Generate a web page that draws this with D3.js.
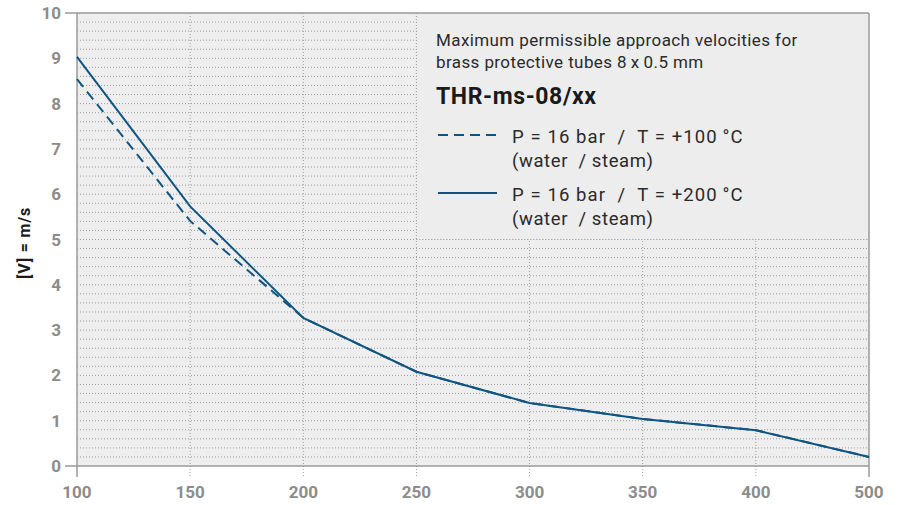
<!DOCTYPE html>
<html>
<head>
<meta charset="utf-8">
<script src="https://cdn.jsdelivr.net/npm/d3@7"></script>
<style>
  body { margin: 0; background: #fff; }
  text { font-family: Roboto, "DejaVu Sans", sans-serif; }
</style>
</head>
<body>
<div id="canvas"></div>
<script>
"use strict"

// data
let categories = ["100", "150", "200", "250", "300", "350", "400", "500"];
let velocity100 = [8.54, 5.41, 3.27, 2.08, 1.39, 1.04, 0.79, 0.2];   // dashed, +100 °C
let velocity200 = [9.03, 5.73, 3.27, 2.08, 1.39, 1.04, 0.79, 0.2];   // solid, +200 °C
let yTicks = [0, 1, 2, 3, 4, 5, 6, 7, 8, 9, 10];
let legendTitle = ["Maximum permissible approach velocities for", "brass protective tubes 8\u2009x\u20090.5 mm"];
let legendCode = "THR-ms-08/xx";
let legendEntries = [
    ["P = 16 bar  /  T = +100\u2009°C", "(water  / steam)"],
    ["P = 16 bar  /  T = +200\u2009°C", "(water  / steam)"]
];

let lineColor = "#0f5580";
let axisColor = "#9a9a9a";
let gridColor = "#9c9c9c";

let drawing = d3.select("#canvas")
    .append("svg")
    .attr("width", 905)
    .attr("height", 505);

let x = d3.scalePoint()
    .domain(categories)
    .range([77, 869]);

let y = d3.scaleLinear()
    .domain([0, 10])
    .range([466, 13]);

// plot background
let plotBg = drawing.append("rect")
    .attr("x", x("100"))
    .attr("y", y(10))
    .attr("width", x("500") - x("100"))
    .attr("height", y(0) - y(10))
    .attr("fill", "#eeeeee");

// horizontal dotted grid, every 0.2
let minorTicks = d3.range(1, 50).map(d => d / 5);
drawing.append("g")
    .selectAll("line")
    .data(minorTicks)
    .join("line")
    .attr("x1", x("100"))
    .attr("x2", x("500"))
    .attr("y1", d => y(d))
    .attr("y2", d => y(d))
    .attr("stroke", gridColor)
    .attr("stroke-width", 1)
    .attr("stroke-dasharray", "1,2");

// vertical dotted grid, reaching below the axis
drawing.append("g")
    .selectAll("line")
    .data(categories.slice(1, -1))
    .join("line")
    .attr("x1", d => x(d))
    .attr("x2", d => x(d))
    .attr("y1", y(10))
    .attr("y2", y(0) + 11)
    .attr("stroke", gridColor)
    .attr("stroke-width", 1)
    .attr("stroke-dasharray", "1,2");

// legend box covers the top right corner of the grid
let legendBox = drawing.append("rect")
    .attr("x", x("250"))
    .attr("y", y(10))
    .attr("width", x("500") - x("250"))
    .attr("height", y(5) - y(10))
    .attr("fill", "#ededed");

let legendLeftEdge = drawing.append("line")
    .attr("x1", x("250"))
    .attr("x2", x("250"))
    .attr("y1", y(10))
    .attr("y2", y(5))
    .attr("stroke", gridColor)
    .attr("stroke-dasharray", "1,2");

let legendBottomEdge = drawing.append("line")
    .attr("x1", x("250"))
    .attr("x2", x("500"))
    .attr("y1", y(5))
    .attr("y2", y(5))
    .attr("stroke", gridColor)
    .attr("stroke-dasharray", "1,2");

// frame, each side running a little past the corners
let frame = drawing.append("g")
    .attr("stroke", axisColor)
    .attr("stroke-width", 1.5);
frame.append("line").attr("x1", x("100") - 12).attr("x2", x("500")).attr("y1", y(10)).attr("y2", y(10));
frame.append("line").attr("x1", x("100") - 12).attr("x2", x("500")).attr("y1", y(0)).attr("y2", y(0));
frame.append("line").attr("x1", x("100")).attr("x2", x("100")).attr("y1", y(10)).attr("y2", y(0) + 11);
frame.append("line").attr("x1", x("500")).attr("x2", x("500")).attr("y1", y(10)).attr("y2", y(0) + 11);

// tick labels
drawing.append("g")
    .selectAll("text")
    .data(yTicks)
    .join("text")
    .attr("x", 61)
    .attr("y", d => y(d) + 6)
    .attr("text-anchor", "end")
    .attr("font-size", 17)
    .attr("font-weight", "bold")
    .attr("fill", "#8c8c8c")
    .text(d => d);

drawing.append("g")
    .selectAll("text")
    .data(categories)
    .join("text")
    .attr("x", d => x(d))
    .attr("y", 498)
    .attr("text-anchor", "middle")
    .attr("font-size", 17)
    .attr("font-weight", "bold")
    .attr("fill", "#8c8c8c")
    .text(d => d);

let yTitle = drawing.append("text")
    .attr("transform", "translate(30,243) rotate(-90)")
    .attr("text-anchor", "middle")
    .attr("font-size", 16)
    .attr("font-weight", "bold")
    .attr("letter-spacing", 0.8)
    .attr("fill", "#1a1a1a")
    .text("[V] = m/s");

// curves
let line = d3.line()
    .x((d, i) => x(categories[i]))
    .y(d => y(d));

let dashedCurve = drawing.append("path")
    .datum(velocity100)
    .attr("d", line)
    .attr("fill", "none")
    .attr("stroke", lineColor)
    .attr("stroke-width", 2)
    .attr("stroke-dasharray", "10,6");

let solidCurve = drawing.append("path")
    .datum(velocity200)
    .attr("d", line)
    .attr("fill", "none")
    .attr("stroke", lineColor)
    .attr("stroke-width", 2);

// legend text
drawing.append("g")
    .selectAll("text")
    .data(legendTitle)
    .join("text")
    .attr("x", 436)
    .attr("y", (d, i) => 46 + i * 22)
    .attr("font-size", 17)
    .attr("letter-spacing", 0.4)
    .attr("fill", "#2a2a2a")
    .text(d => d);

let codeText = drawing.append("text")
    .attr("x", 436)
    .attr("y", 104)
    .attr("font-size", 23)
    .attr("font-weight", "bold")
    .attr("letter-spacing", 0.6)
    .attr("fill", "#1a1a1a")
    .text(legendCode);

let entryY = [143, 201];
legendEntries.forEach((entry, i) => {
    drawing.append("line")
        .attr("x1", 438)
        .attr("x2", 497)
        .attr("y1", entryY[i] - 8)
        .attr("y2", entryY[i] - 8)
        .attr("stroke", lineColor)
        .attr("stroke-width", 2)
        .attr("stroke-dasharray", i === 0 ? "10,6" : null);
    drawing.append("text")
        .attr("x", 512)
        .attr("y", entryY[i])
        .attr("font-size", 18.5)
        .attr("letter-spacing", 1.1)
        .attr("fill", "#2a2a2a")
        .style("white-space", "pre")
        .text(entry[0]);
    drawing.append("text")
        .attr("x", 512)
        .attr("y", entryY[i] + 24)
        .attr("font-size", 18.5)
        .attr("letter-spacing", 0.6)
        .attr("fill", "#2a2a2a")
        .style("white-space", "pre")
        .text(entry[1]);
});
</script>
</body>
</html>
